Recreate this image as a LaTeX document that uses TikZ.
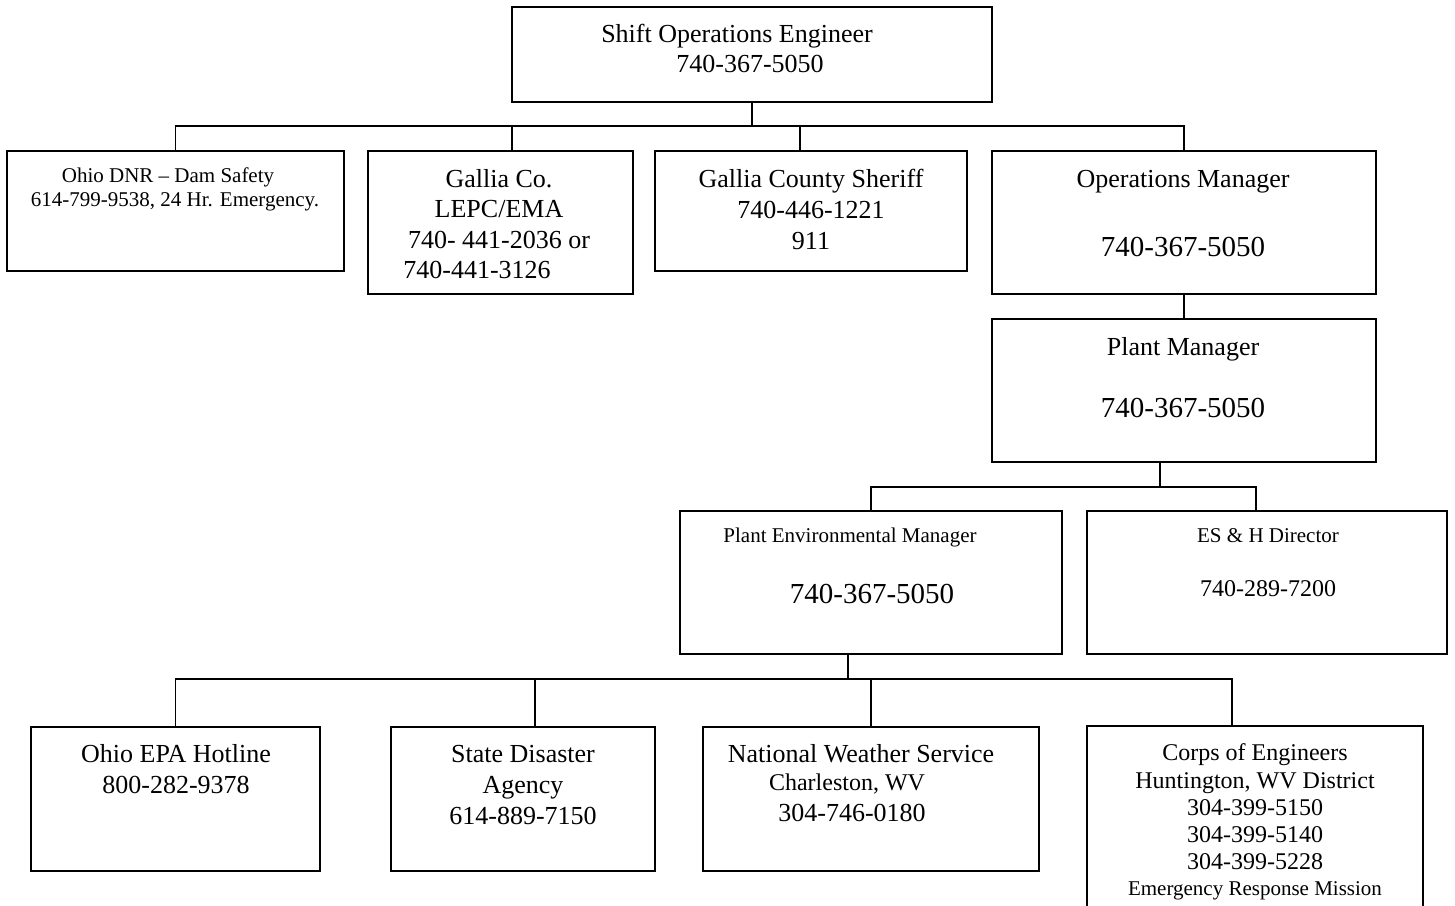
\documentclass[tikz,border=0pt]{standalone}
\usepackage{fontspec}
\setmainfont{Liberation Serif}
\usepackage{xcolor}
\usepackage{tikz}

\begin{document}
\begin{tikzpicture}[x=1pt, y=-1pt,
    box/.style={draw, line width=1.5pt, inner sep=0pt, outer sep=0pt},
    wire/.style={line width=1.5pt},
    big/.style={font=\fontsize{26}{31}\selectfont, anchor=base, inner sep=0pt},
    mid/.style={font=\fontsize{24}{28}\selectfont, anchor=base, inner sep=0pt},
    small/.style={font=\fontsize{21}{24}\selectfont, anchor=base, inner sep=0pt},
    phone/.style={font=\fontsize{29}{34}\selectfont, anchor=base, inner sep=0pt}
]

  \useasboundingbox (0,0) rectangle (1455,905);
  \clip (0,0) rectangle (1455,905);

  % Kaestchen
  \node[box, minimum width=480, minimum height=95] (sem) at (752,54.5) {};
  \node[box, minimum width=337, minimum height=120] (dnr) at (175.5,211) {};
  \node[box, minimum width=265, minimum height=143] (gallia) at (500.5,222.5) {};
  \node[box, minimum width=312, minimum height=120] (sheriff) at (811,211) {};
  \node[box, minimum width=384, minimum height=143] (opsmgr) at (1184,222.5) {};
  \node[box, minimum width=384, minimum height=143] (plantmgr) at (1184,390.5) {};
  \node[box, minimum width=382, minimum height=143] (pem) at (871,582.5) {};
  \node[box, minimum width=360, minimum height=143] (esh) at (1267,582.5) {};
  \node[box, minimum width=289, minimum height=144] (epa) at (175.5,799) {};
  \node[box, minimum width=264, minimum height=144] (state) at (523,799) {};
  \node[box, minimum width=336, minimum height=144] (nws) at (871,799) {};
  \node[box, minimum width=336, minimum height=224] (corps) at (1255,838) {};

  % Texte
  \node[big] (semA) at (737,42) {Shift Operations Engineer};
  \node[big] (semB) at (750,72) {740-367-5050};

  \node[small] (dnrA) at (168,182) {Ohio DNR -- Dam Safety};
  \node[small] (dnrB) at (175,206) {614-799-9538, 24 Hr. Emergency.};

  \node[big] (galliaA) at (499,187) {Gallia Co.};
  \node[big] (galliaB) at (499,217) {LEPC/EMA};
  \node[big] (galliaC) at (499,248) {740- 441-2036 or};
  \node[big] (galliaD) at (477,278) {740-441-3126};

  \node[big] (sheriffA) at (811,187) {Gallia County Sheriff};
  \node[big] (sheriffB) at (811,218) {740-446-1221};
  \node[big] (sheriffC) at (811,249) {911};

  \node[big] (opsmgrA) at (1183,187) {Operations Manager};
  \node[phone] (opsmgrB) at (1183,256) {740-367-5050};

  \node[big] (plantmgrA) at (1183,355) {Plant Manager};
  \node[phone] (plantmgrB) at (1183,417) {740-367-5050};

  \node[small] (pemA) at (850,542) {Plant Environmental Manager};
  \node[phone] (pemB) at (872,603) {740-367-5050};

  \node[small] (eshA) at (1268,542) {ES \& H Director};
  \node[mid] (eshB) at (1268,596) {740-289-7200};

  \node[big] (epaA) at (176,762) {Ohio EPA Hotline};
  \node[big] (epaB) at (176,793) {800-282-9378};

  \node[big] (stateA) at (523,762) {State Disaster};
  \node[big] (stateB) at (523,793) {Agency};
  \node[big] (stateC) at (523,824) {614-889-7150};

  \node[big] (nwsA) at (861,762) {National Weather Service};
  \node[mid] (nwsB) at (847,790) {Charleston, WV};
  \node[big] (nwsC) at (852,821) {304-746-0180};

  \node[mid] (corpsA) at (1255,760) {Corps of Engineers};
  \node[mid] (corpsB) at (1255,788) {Huntington, WV District};
  \node[mid] (corpsC) at (1255,815) {304-399-5150};
  \node[mid] (corpsD) at (1255,842) {304-399-5140};
  \node[mid] (corpsE) at (1255,869) {304-399-5228};
  \node[small] (corpsF) at (1255,895) {Emergency Response Mission};

  % Verbindungen, erste Ebene
  \coordinate (bus1) at (752,126);
  \draw[wire] (sem.south) -- (bus1);
  \draw[wire] (dnr.north) |- (bus1) -| (opsmgr.north);
  \draw[wire] ([xshift=11.5pt]gallia.north) -- ([xshift=11.5pt]gallia.north |- bus1);
  \draw[wire] ([xshift=-11pt]sheriff.north) -- ([xshift=-11pt]sheriff.north |- bus1);

  % zweite Ebene
  \draw[wire] (opsmgr.south) -- (plantmgr.north);

  \coordinate (bus2) at (1160,487);
  \draw[wire] ([xshift=-24pt]plantmgr.south) -- (bus2);
  \draw[wire] (pem.north) |- (bus2) -| ([xshift=-11pt]esh.north);

  % dritte Ebene
  \coordinate (bus3) at (848,679);
  \draw[wire] ([xshift=-23pt]pem.south) -- (bus3);
  \draw[wire] (epa.north) |- (bus3) -| ([xshift=-23pt]corps.north);
  \draw[wire] ([xshift=12pt]state.north) -- ([xshift=12pt]state.north |- bus3);
  \draw[wire] (nws.north) -- (nws.north |- bus3);

\end{tikzpicture}
\end{document}
